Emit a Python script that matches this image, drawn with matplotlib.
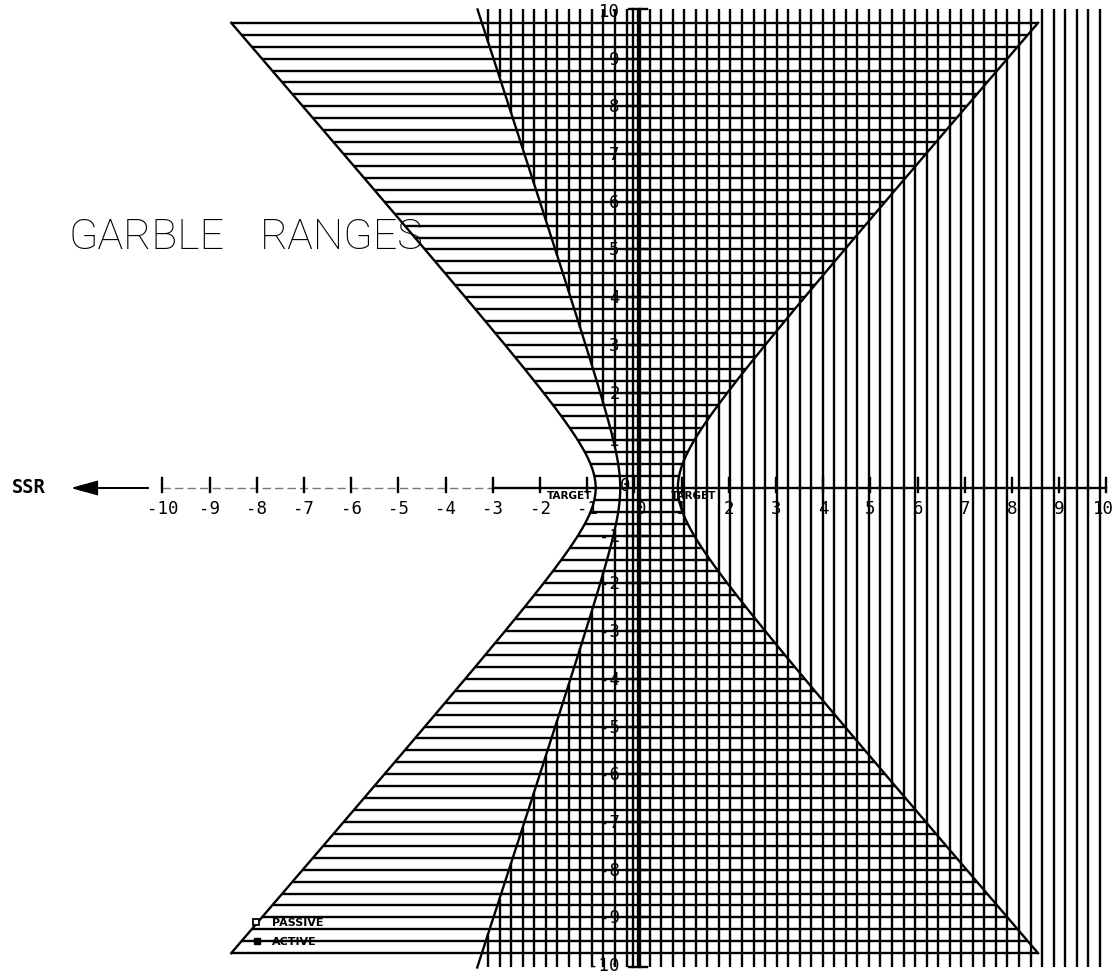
import numpy as np
import matplotlib.pyplot as plt
from matplotlib.collections import LineCollection

# axis ticks and labels
x_ticks = list(range(-10, 11))
y_ticks = list(range(-10, 11))

# hatch spacing (passive = horizontal, active = vertical)
passive_rows = np.arange(-9.75, 9.76, 0.25)
active_cols = np.arange(-3.10, 9.9, 0.2445)

# passive garble limits: x = +-sqrt(vertex^2 + (slope*y)^2)
passive_vertex_left = 0.82
passive_vertex_right = 0.92
passive_slope = 0.872

# active garble limit on the SSR side
active_vertex = 0.30
active_slope = 0.33

LW = 1.7


def passive_left(y):
    return -np.sqrt(passive_vertex_left ** 2 + (passive_slope * y) ** 2)


def passive_right(y):
    return np.sqrt(passive_vertex_right ** 2 + (passive_slope * y) ** 2)


def active_left(y):
    return -np.sqrt(active_vertex ** 2 + (active_slope * y) ** 2)


fig = plt.figure(figsize=(11.14, 9.78), dpi=100)
ax = fig.add_axes([0, 0, 1, 1])
ax.set_xlim(-13.44, 10.16)
ax.set_ylim(-10.25, 10.25)
ax.axis("off")

# horizontal hatch between the two passive branches
segs = []
for y in passive_rows:
    if abs(y) < 1e-9:
        continue
    segs.append([(passive_left(y), y), (passive_right(y), y)])
ax.add_collection(LineCollection(segs, colors="k", linewidths=LW))

# vertical hatch to the right of the active limit
top, bot = 10.03, -10.05
segs = []
for x in active_cols:
    if x >= -active_vertex:
        segs.append([(x, bot), (x, top)])
    else:
        yb = np.sqrt(x ** 2 - active_vertex ** 2) / active_slope
        if yb < top:
            segs.append([(x, yb), (x, top)])
            segs.append([(x, bot), (x, -yb)])
ax.add_collection(LineCollection(segs, colors="k", linewidths=LW))

# boundary curves
yy = np.linspace(-9.75, 9.75, 400)
ax.plot(passive_left(yy), yy, color="k", lw=LW)
ax.plot(passive_right(yy), yy, color="k", lw=LW)
ya = np.linspace(bot, top, 400)
ax.plot(active_left(ya), ya, color="k", lw=LW)

# x axis
ax.plot([-10, -3], [0, 0], color="#777777", lw=1.0, ls=(0, (6, 3)))
ax.plot([-3, 10], [0, 0], color="k", lw=LW)
tick_font = dict(family="DejaVu Sans Mono", fontsize=12.5)
for t in x_ticks:
    ax.plot([t, t], [-0.08, 0.21], color="k", lw=LW)
    xl = t
    if t == 0:
        xl = 0.15
    elif t == 10:
        xl = 9.93
    ax.text(xl, -0.42, str(t), ha="center", va="center", **tick_font)

# SSR arrow
ax.arrow(-10.3, 0, -1.58, 0, head_width=0.27, head_length=0.5,
         length_includes_head=True, fc="k", ec="k", lw=1.2)
ax.text(-12.84, 0.04, "SSR", ha="center", va="center",
        family="DejaVu Sans Mono", fontweight="bold", fontsize=13.5)

# y axis (double line)
for xa in (-0.03, 0.12):
    ax.plot([xa, xa], [-10.05, 10.03], color="k", lw=LW)
ax.plot([-0.12, 0.27], [10.03, 10.03], color="k", lw=LW)
ax.plot([-0.12, 0.27], [-10.05, -10.05], color="k", lw=LW)
for t in y_ticks:
    if t == 0:
        ax.text(-0.2, 0.06, "0", ha="center", va="center", **tick_font)
        continue
    if abs(t) < 10:
        ax.plot([-0.15, 0.27], [t, t], color="k", lw=LW)
    ax.text(-0.31, t, str(t), ha="right", va="center", **tick_font)

# target markers
ax.text(-1.37, -0.15, "TARGET", ha="center", va="center",
        fontweight="bold", fontsize=7.5)
ax.text(1.26, -0.15, "TARGET", ha="center", va="center",
        fontweight="bold", fontsize=7.5)

# title
title_font = dict(family="Roboto", fontweight="light", fontsize=31)
ax.text(-11.99, 5.28, "GARBLE", ha="left", va="center", **title_font)
ax.text(-7.93, 5.28, "RANGES", ha="left", va="center", **title_font)

# legend
ax.plot([-8.02], [-9.1], marker="s", ms=5, mfc="white", mec="k", mew=1.3)
ax.text(-7.68, -9.1, "PASSIVE", ha="left", va="center",
        fontweight="bold", fontsize=8)
ax.plot([-8.0], [-9.5], marker="s", ms=5, mfc="k", mec="k")
ax.text(-7.68, -9.5, "ACTIVE", ha="left", va="center",
        fontweight="bold", fontsize=8)

fig.savefig("out.png", dpi=100, facecolor="white")
